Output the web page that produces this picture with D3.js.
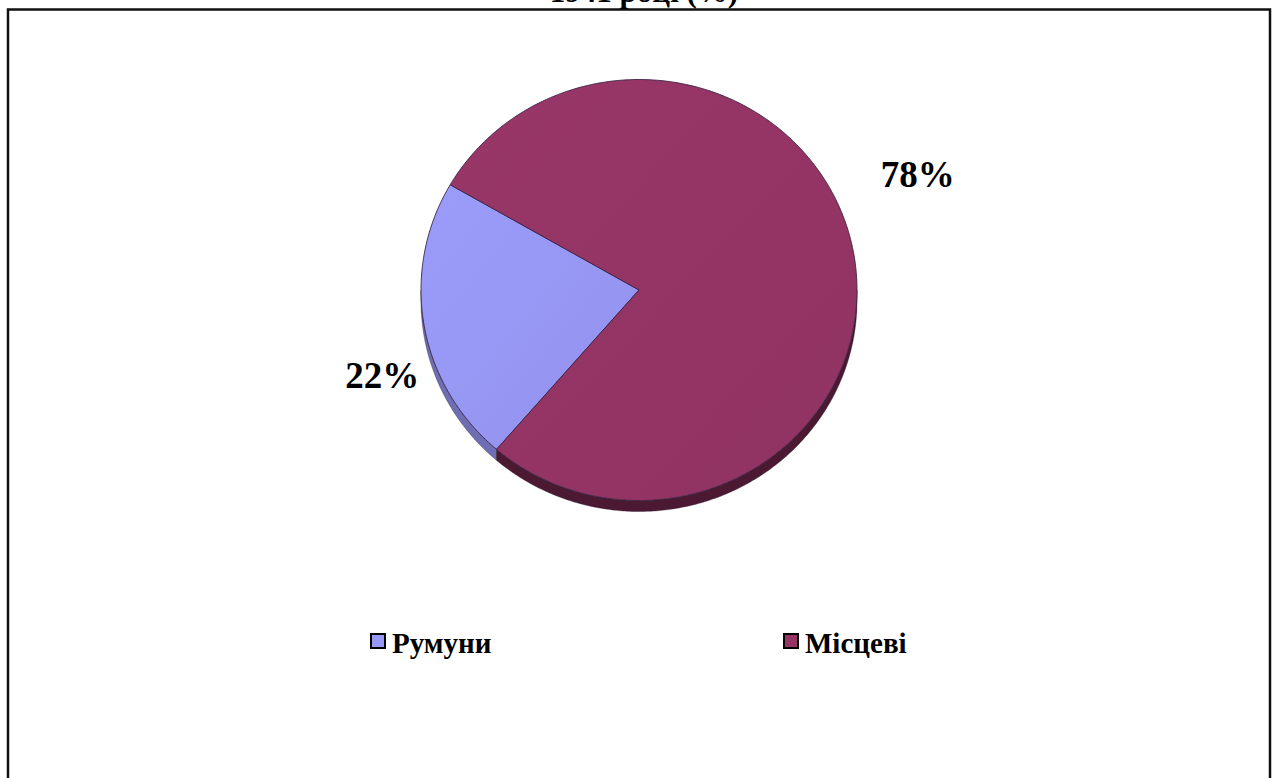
<!DOCTYPE html>
<html>
<head>
<meta charset="utf-8">
<script src="https://cdn.jsdelivr.net/npm/d3@7"></script>
<style>
  body { margin: 0; background: #fff; }
  svg { display: block; }
  svg text { font-family: "Liberation Serif", "Times New Roman", "DejaVu Serif", serif; }
</style>
</head>
<body>
<div id="the_chart"></div>
<script>
// data
let categories = ["Румуни", "Місцеві"];
let values = [22, 78];
let labels = ["22%", "78%"];
let colors_top = ["#9797f4", "#943465"];
let colors_side = ["#6e6eb4", "#4b1a32"];
let title = "1941 році (%)";

gen_vis();

function gen_vis() {
    var w = 1272;
    var h = 778;
    var cx = 639, cy = 290;
    var rx = 218, ry = 210.5;
    var depth = 11;

    var svg = d3.select("#the_chart").append("svg")
        .attr("width", w)
        .attr("height", h);

    // frame
    svg.append("rect")
        .attr("x", 8).attr("y", 9.5)
        .attr("width", 1262).attr("height", 800)
        .attr("fill", "none")
        .attr("stroke", "#111")
        .attr("stroke-width", 2.5);

    // title, mostly cut off at the top
    svg.append("text")
        .attr("x", 644).attr("y", 2)
        .attr("text-anchor", "middle")
        .attr("font-weight", "bold")
        .attr("font-size", 31)
        .text(title);

    // unit ellipse -> pixel
    var xscale = d3.scaleLinear().domain([-1, 1]).range([cx - rx, cx + rx]);
    var yscale = d3.scaleLinear().domain([-1, 1]).range([cy - ry, cy + ry]);

    function pt(a, k, dy) {
        return [xscale(k * Math.sin(a)), yscale(-k * Math.cos(a)) + (dy || 0)];
    }
    function arcPts(a0, a1, dy) {
        var n = Math.max(2, Math.ceil((a1 - a0) / 0.01));
        var out = [];
        for (var i = 0; i <= n; i++) out.push(pt(a0 + (a1 - a0) * i / n, 1, dy));
        return out;
    }

    var start = 220.8 * Math.PI / 180;
    var pie = d3.pie().sort(null)
        .startAngle(start)
        .endAngle(start + 2 * Math.PI);
    var arcs = pie(values);
    var line = d3.line();

    // side walls (front half only: angles between PI/2 and 3PI/2, mod 2PI)
    var sides = svg.append("g");
    arcs.forEach(function (d, i) {
        [0, 2 * Math.PI].forEach(function (shift) {
            var lo = Math.max(d.startAngle, Math.PI / 2 + shift);
            var hi = Math.min(d.endAngle, 3 * Math.PI / 2 + shift);
            if (hi <= lo) return;
            var top = arcPts(lo, hi, 0);
            var bot = arcPts(lo, hi, depth).reverse();
            sides.append("path")
                .attr("d", line(top.concat(bot)) + "Z")
                .attr("fill", colors_side[i])
                .attr("stroke", "#2a1a2a")
                .attr("stroke-width", 0.6)
                .attr("stroke-opacity", 0.6);
        });
    });

    // top surface
    var defs = svg.append("defs");
    colors_top.forEach(function (c, i) {
        var g = defs.append("linearGradient")
            .attr("id", "g" + i)
            .attr("x1", "0").attr("y1", "0").attr("x2", "1").attr("y2", "1");
        g.append("stop").attr("offset", "0").attr("stop-color", d3.color(c).brighter(0.08));
        g.append("stop").attr("offset", "1").attr("stop-color", d3.color(c).darker(0.08));
    });

    svg.append("g").selectAll("path")
        .data(arcs)
        .enter().append("path")
        .attr("d", function (d) {
            return line([[cx, cy]].concat(arcPts(d.startAngle, d.endAngle, 0))) + "Z";
        })
        .attr("fill", function (d, i) { return "url(#g" + i + ")"; })
        .attr("stroke", "#3a2444")
        .attr("stroke-width", 0.9)
        .attr("stroke-linejoin", "round");

    // data labels
    var nudge = [[12, 54], [10, -59]];
    svg.append("g").selectAll("text")
        .data(arcs)
        .enter().append("text")
        .attr("x", function (d, i) { return pt((d.startAngle + d.endAngle) / 2, 1.25)[0] + nudge[i][0]; })
        .attr("y", function (d, i) { return pt((d.startAngle + d.endAngle) / 2, 1.25)[1] + nudge[i][1]; })
        .attr("text-anchor", "middle")
        .attr("font-weight", "bold")
        .attr("font-size", 37)
        .text(function (d, i) { return labels[i]; });

    // legend
    var lx = d3.scaleOrdinal().domain(categories).range([371, 784]);
    var leg = svg.append("g").selectAll("g")
        .data(categories)
        .enter().append("g")
        .attr("transform", function (d) { return "translate(" + lx(d) + ",634)"; });
    leg.append("rect")
        .attr("width", 14).attr("height", 14)
        .attr("fill", function (d, i) { return colors_top[i]; })
        .attr("stroke", "#000")
        .attr("stroke-width", 2);
    leg.append("text")
        .attr("x", 21).attr("y", 19)
        .attr("font-weight", "bold")
        .attr("font-size", 29)
        .text(function (d) { return d; });
}
</script>
</body>
</html>
